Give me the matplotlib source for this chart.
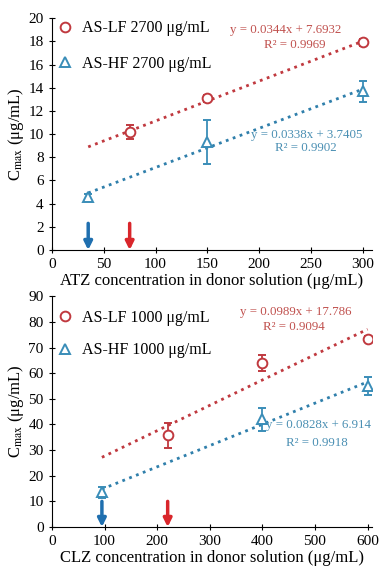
import matplotlib
matplotlib.use("Agg")
import matplotlib.pyplot as plt
from matplotlib.lines import Line2D
import numpy as np

plt.rcParams["font.family"] = ["Liberation Serif", "DejaVu Serif"]
plt.rcParams["mathtext.fontset"] = "stix"

RED = "#c0393f"
BLUE = "#3a8db8"
RED_TXT = "#c0504d"
BLUE_TXT = "#4a8fb3"
RED_ARROW = "#d9262b"
BLUE_ARROW = "#1f6faf"

# top panel (ATZ)
atz_lf_x = [75, 150, 300]
atz_lf_y = [10.2, 13.1, 17.9]
atz_lf_err = [0.6, 0.3, 0.3]
atz_hf_x = [35, 150, 300]
atz_hf_y = [4.6, 9.3, 13.7]
atz_hf_err = [0.2, 1.9, 0.9]
atz_lf_fit = (0.0344, 7.6932)
atz_hf_fit = (0.0338, 3.7405)
atz_r2 = ("0.9969", "0.9902")
atz_arrows = [35, 75]

# bottom panel (CLZ)
clz_lf_x = [220, 400, 600]
clz_lf_y = [35.7, 64.0, 73.5]
clz_lf_err = [5.0, 3.0, 1.0]
clz_hf_x = [95, 400, 600]
clz_hf_y = [13.5, 42.0, 55.0]
clz_hf_err = [2.0, 4.5, 3.5]
clz_lf_fit = (0.0989, 17.786)
clz_hf_fit = (0.0828, 6.914)
clz_r2 = ("0.9094", "0.9918")
clz_arrows = [95, 220]


def draw_panel(ax, lf_x, lf_y, lf_err, hf_x, hf_y, hf_err, lf_fit, hf_fit,
               r2, arrows, arrow_len, drug, dose, xmax, ymax, ystep, xstep,
               txt_pos, legspace, leg_y):
    ax.errorbar(lf_x, lf_y, yerr=lf_err, fmt="o", mfc="white", mec=RED,
                ecolor=RED, mew=1.4, ms=7, capsize=3, elinewidth=1.3, zorder=4)
    ax.errorbar(hf_x, hf_y, yerr=hf_err, fmt="^", mfc="white", mec=BLUE,
                ecolor=BLUE, mew=1.4, ms=7, capsize=3, elinewidth=1.3, zorder=4)

    xs = np.array([min(hf_x), max(lf_x)])
    ax.plot(xs, lf_fit[0] * xs + lf_fit[1], ":", color=RED, lw=2, zorder=3)
    ax.plot(xs, hf_fit[0] * xs + hf_fit[1], ":", color="#2f7fab", lw=2, zorder=3)

    labels = [f"y = {lf_fit[0]}x + {lf_fit[1]}", f"R² = {r2[0]}",
              f"y = {hf_fit[0]}x + {hf_fit[1]}", f"R² = {r2[1]}"]
    colors = [RED_TXT, RED_TXT, BLUE_TXT, BLUE_TXT]
    for s, c, (tx, ty) in zip(labels, colors, txt_pos):
        ax.text(tx, ty, s, color=c, fontsize=9.3, ha="center", va="center",
                clip_on=False)

    for xa, c in zip(arrows, [BLUE_ARROW, RED_ARROW]):
        ax.annotate("", xy=(xa, 0), xytext=(xa, arrow_len),
                    arrowprops=dict(arrowstyle="-|>", color=c, lw=2.5,
                                    mutation_scale=12, shrinkA=0, shrinkB=0))

    ax.set_xlim(0, xmax)
    ax.set_ylim(0, ymax)
    ax.set_xticks(np.arange(0, xmax, xstep))
    ax.set_yticks(np.arange(0, ymax + 1, ystep))
    ax.spines["top"].set_visible(False)
    ax.spines["right"].set_visible(False)
    ax.tick_params(direction="inout", length=5, labelsize=11)
    ax.set_xlabel(f"{drug} concentration in donor solution (μg/mL)",
                  fontsize=12, labelpad=1)
    ax.set_ylabel(r"C$_{\mathrm{max}}$ (μg/mL)", fontsize=12, labelpad=2)

    handles = [Line2D([], [], ls="none", marker="o", mfc="white", mec=RED,
                      mew=1.4, ms=7),
               Line2D([], [], ls="none", marker="^", mfc="white", mec=BLUE,
                      mew=1.4, ms=7)]
    ax.legend(handles, [f"AS-LF {dose} μg/mL", f"AS-HF {dose} μg/mL"],
              loc="upper left", bbox_to_anchor=(0.0, leg_y), frameon=False,
              fontsize=11.5, handletextpad=0.6, labelspacing=legspace,
              borderaxespad=0.0, handlelength=1.0, borderpad=0.3)


fig = plt.figure(figsize=(3.79, 5.67), dpi=100)
ax1 = fig.add_axes([0.137, 0.559, 0.844, 0.409])
ax2 = fig.add_axes([0.137, 0.0705, 0.844, 0.407])

draw_panel(ax1, atz_lf_x, atz_lf_y, atz_lf_err, atz_hf_x, atz_hf_y,
           atz_hf_err, atz_lf_fit, atz_hf_fit, atz_r2, atz_arrows, 2.3,
           "ATZ", "2700", 308.6, 20, 2, 50,
           [(225, 18.97), (234, 17.67), (246, 9.91), (245, 8.79)],
           1.2, 1.011)
draw_panel(ax2, clz_lf_x, clz_lf_y, clz_lf_err, clz_hf_x, clz_hf_y,
           clz_hf_err, clz_lf_fit, clz_hf_fit, clz_r2, clz_arrows, 10,
           "CLZ", "1000", 608, 90, 10, 100,
           [(463, 83.8), (459, 77.9), (507, 39.7), (503, 32.7)],
           1.05, 0.963)

plt.savefig("out.png", dpi=100)
plt.close(fig)
